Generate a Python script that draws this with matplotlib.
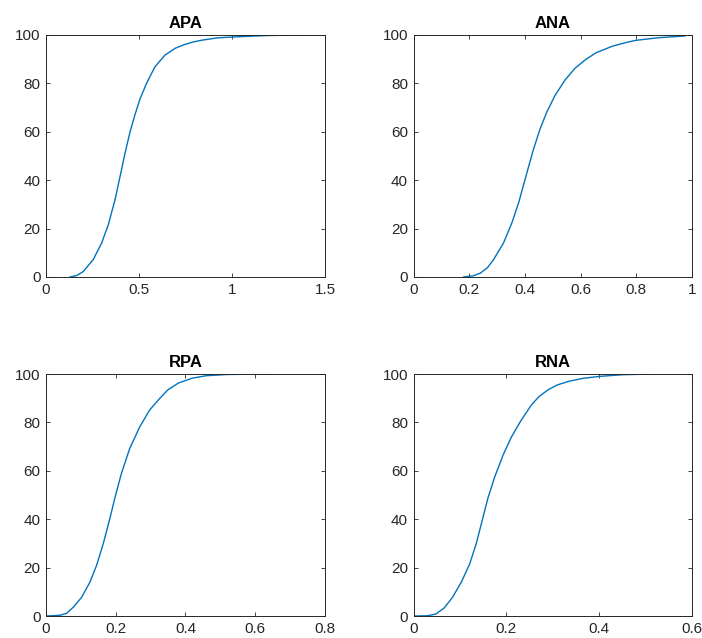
import matplotlib
matplotlib.use("Agg")
import matplotlib.pyplot as plt

plt.rcParams["font.family"] = ["Liberation Sans", "DejaVu Sans"]

# Cumulative distributions (percent) for each measure
apa_x = [0.129, 0.165, 0.201, 0.254, 0.299, 0.335, 0.371, 0.398, 0.425, 0.452,
         0.478, 0.505, 0.541, 0.586, 0.640, 0.694, 0.743, 0.790, 0.834, 0.920,
         1.010, 1.100, 1.200, 1.357]
apa_y = [0.0, 0.6, 2.3, 7.2, 14.0, 21.6, 31.9, 41.5, 51.2, 60.0,
         67.0, 73.5, 80.1, 86.9, 91.7, 94.5, 96.0, 97.1, 97.8, 98.8,
         99.2, 99.5, 99.8, 100.0]

ana_x = [0.180, 0.215, 0.240, 0.265, 0.287, 0.323, 0.353, 0.377, 0.395, 0.413,
         0.430, 0.454, 0.478, 0.508, 0.544, 0.580, 0.620, 0.656, 0.715, 0.760,
         0.799, 0.882, 0.975]
ana_y = [0.0, 0.5, 1.6, 3.8, 7.1, 14.0, 22.3, 30.5, 38.0, 45.5,
         52.5, 61.0, 68.0, 75.0, 81.4, 86.3, 90.0, 92.7, 95.4, 96.8,
         97.8, 98.9, 99.6]

rpa_x = [0.000, 0.040, 0.059, 0.078, 0.102, 0.126, 0.145, 0.164, 0.183, 0.197,
         0.216, 0.240, 0.269, 0.297, 0.326, 0.349, 0.380, 0.420, 0.460, 0.520, 0.645]
rpa_y = [0.0, 0.3, 1.1, 3.6, 7.7, 14.0, 20.9, 29.8, 40.2, 48.5,
         58.8, 69.2, 78.2, 85.1, 89.9, 93.4, 96.3, 98.3, 99.3, 99.8, 100.0]

rna_x = [0.000, 0.030, 0.048, 0.066, 0.084, 0.103, 0.121, 0.135, 0.149, 0.160,
         0.175, 0.193, 0.211, 0.232, 0.254, 0.270, 0.290, 0.310, 0.335, 0.365,
         0.400, 0.450, 0.516]
rna_y = [0.0, 0.1, 0.8, 3.3, 7.7, 14.0, 21.5, 29.8, 40.2, 48.5,
         57.5, 66.5, 74.0, 80.9, 87.2, 90.6, 93.5, 95.5, 97.0, 98.2,
         99.0, 99.7, 100.0]

titles = ["APA", "ANA", "RPA", "RNA"]
xlims = [(0, 1.5), (0, 1.0), (0, 0.8), (0, 0.6)]
xticks = [[0, 0.5, 1, 1.5], [0, 0.2, 0.4, 0.6, 0.8, 1],
          [0, 0.2, 0.4, 0.6, 0.8], [0, 0.2, 0.4, 0.6]]
xticklabels = [["0", "0.5", "1", "1.5"], ["0", "0.2", "0.4", "0.6", "0.8", "1"],
               ["0", "0.2", "0.4", "0.6", "0.8"], ["0", "0.2", "0.4", "0.6"]]
yticks = [0, 20, 40, 60, 80, 100]
series = [(apa_x, apa_y), (ana_x, ana_y), (rpa_x, rpa_y), (rna_x, rna_y)]

W, H = 702, 638
boxes = [(46, 35, 325, 277), (413.5, 35, 692, 277),
         (46, 374, 325, 616), (413.5, 374, 692, 616)]

fig = plt.figure(figsize=(W / 100, H / 100), dpi=100)
axcol = "#262626"
line_col = "#0072BD"

for i, (l, t, r, b) in enumerate(boxes):
    ax = fig.add_axes([l / W, 1 - b / H, (r - l) / W, (b - t) / H])
    x, y = series[i]
    ax.plot(x, y, color=line_col, lw=1.0, solid_joinstyle="round")
    ax.set_xlim(*xlims[i])
    ax.set_ylim(0, 100)
    ax.set_xticks(xticks[i])
    ax.set_xticklabels(xticklabels[i])
    ax.set_yticks(yticks)
    ax.tick_params(direction="in", length=3, width=0.6, colors=axcol,
                   labelsize=11, top=True, right=True, pad=4)
    for s in ax.spines.values():
        s.set_color(axcol)
        s.set_linewidth(0.7)
    ax.set_title(titles[i], fontsize=12, fontweight="bold", color="black", pad=5)

fig.savefig("out.png", dpi=100)
